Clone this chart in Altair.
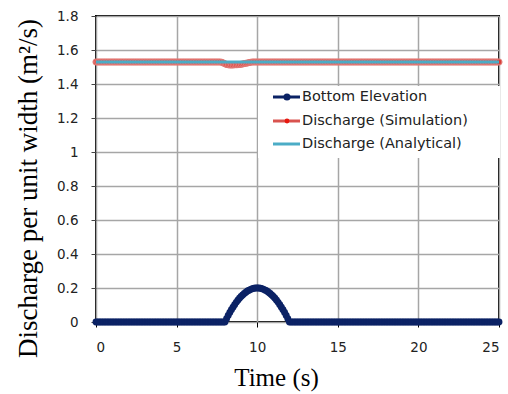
import altair as alt
import pandas as pd

# ---- data ----
time = [round(i * 0.1, 1) for i in range(251)]  # 0 .. 25 s, 0.1 s spacing

bump_z = [0.0, 0.0195, 0.038, 0.0555, 0.072, 0.0875, 0.102, 0.1155, 0.128, 0.1395,
          0.15, 0.1595, 0.168, 0.1755, 0.182, 0.1875, 0.192, 0.1955, 0.198, 0.1995,
          0.2,
          0.1995, 0.198, 0.1955, 0.192, 0.1875, 0.182, 0.1755, 0.168, 0.1595, 0.15,
          0.1395, 0.128, 0.1155, 0.102, 0.0875, 0.072, 0.0555, 0.038, 0.0195, 0.0]  # t = 8 .. 12
bottom = [0.0] * 80 + bump_z + [0.0] * 130

dip_q = [1.528, 1.524, 1.519, 1.515, 1.513, 1.512, 1.512, 1.512, 1.513, 1.513,
         1.514, 1.515, 1.516, 1.518, 1.52, 1.522, 1.524, 1.526, 1.528, 1.529]  # t = 7.8 .. 9.7
sim_q = [1.53] * 78 + dip_q + [1.53] * 153

ana_t = [0, 25]
ana_q = [1.53, 1.53]

legend_labels = ["Bottom Elevation", "Discharge (Simulation)", "Discharge (Analytical)"]

x_ticks = [0, 5, 10, 15, 20, 25]
y_ticks = [0, 0.2, 0.4, 0.6, 0.8, 1.0, 1.2, 1.4, 1.6, 1.8]

NAVY = "#0b2265"
RED = "#d93b35"
CYAN = "#4bacc6"

df = pd.DataFrame({"t": time, "bottom": bottom, "sim": sim_q})
ana = pd.DataFrame({"t": ana_t, "q": ana_q})

xs = alt.Scale(domain=[0, 25], nice=False)
ys = alt.Scale(domain=[0, 1.8], nice=False)

x_axis = alt.Axis(values=x_ticks, tickCount=10, title="Time (s)", grid=True, gridColor="#a6a6a6",
                  gridWidth=1.5, domain=False, tickColor="black", tickSize=5,
                  labelFont="DejaVu Sans", labelFontSize=13.5, labelColor="#222",
                  labelPadding=13, titleFont="Liberation Serif", titleFontSize=25,
                  titleFontWeight="normal", titleColor="black", titleX=180, titleY=55,
                  titleBaseline="middle")
y_axis = alt.Axis(values=y_ticks, tickCount=12, format=".1~f",
                  title="Discharge per unit width (m\u00b2/s)",
                  grid=True, gridColor="#a6a6a6", gridWidth=1.5, domain=False,
                  tickColor="#444", tickSize=5, labelFont="DejaVu Sans", labelFontSize=13.5,
                  labelColor="#222", labelPadding=13, labelOverlap=False,
                  titleFont="Liberation Serif",
                  titleFontSize=27, titleFontWeight="normal", titleColor="black",
                  titleX=-68, titleY=172, titleBaseline="middle", titleAngle=-90)

base = alt.Chart(df)

bottom_line = base.mark_line(color=NAVY, strokeWidth=3, clip=False).encode(
    x=alt.X("t:Q", scale=xs, axis=x_axis), y=alt.Y("bottom:Q", scale=ys, axis=y_axis))
bottom_pts = base.mark_circle(color=NAVY, size=48, opacity=1, clip=False).encode(
    x="t:Q", y="bottom:Q")
sim_pts = base.mark_point(filled=True, fill=RED, stroke="#e07a76", strokeWidth=1.2,
                          size=34, opacity=1, clip=False).encode(x="t:Q", y="sim:Q")
ana_line = alt.Chart(ana).mark_line(color=CYAN, strokeWidth=3).encode(x="t:Q", y="q:Q")

one = pd.DataFrame({"k": [0]})
leg_box = alt.Chart(one).mark_rect(fill="white").encode(
    x=alt.value(162), x2=alt.value(404), y=alt.value(70), y2=alt.value(142))

rows_y = [81, 105, 128]
leg_layers = [leg_box]
# row 1 bottom elevation
leg_layers.append(alt.Chart(one).mark_rule(color=NAVY, strokeWidth=3).encode(
    x=alt.value(177), x2=alt.value(204), y=alt.value(rows_y[0])))
leg_layers.append(alt.Chart(one).mark_circle(color=NAVY, size=50, opacity=1).encode(
    x=alt.value(191), y=alt.value(rows_y[0])))
# row 2 simulation
leg_layers.append(alt.Chart(one).mark_rule(color="#d9534f", strokeWidth=3).encode(
    x=alt.value(177), x2=alt.value(204), y=alt.value(rows_y[1])))
leg_layers.append(alt.Chart(one).mark_circle(color="#e8180f", size=24, opacity=1).encode(
    x=alt.value(191), y=alt.value(rows_y[1])))
# row 3 analytical
leg_layers.append(alt.Chart(one).mark_rule(color=CYAN, strokeWidth=3).encode(
    x=alt.value(177), x2=alt.value(204), y=alt.value(rows_y[2])))
for i, lab in enumerate(legend_labels):
    leg_layers.append(alt.Chart(one).mark_text(
        align="left", baseline="middle", font="DejaVu Sans", fontSize=14.5, color="#222"
    ).encode(x=alt.value(206), y=alt.value(rows_y[i]), text=alt.value(lab)))

chart = alt.layer(bottom_line, bottom_pts, sim_pts, ana_line, *leg_layers).properties(
    width=403, height=306,
    autosize=alt.AutoSizeParams(type="none"),
    padding={"left": 96, "top": 16, "right": 9, "bottom": 72},
    background="white",
).configure_view(stroke="black", strokeWidth=2)

chart.save("out.html", embed_options={"renderer": "svg", "actions": False})
